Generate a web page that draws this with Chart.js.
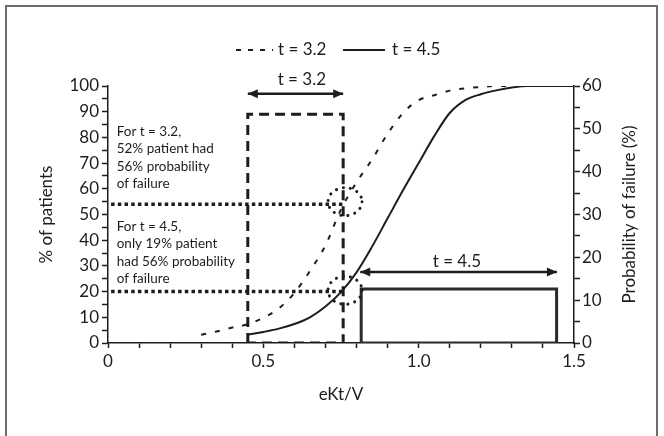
<!DOCTYPE html>
<html>
<head>
<meta charset="utf-8">
<script src="https://cdn.jsdelivr.net/npm/chart.js@4.4.1/dist/chart.umd.min.js"></script>
<style>
  html, body { margin: 0; padding: 0; background: #fff; }
  #wrap { position: relative; width: 664px; height: 436px; overflow: hidden; }
  #frame { position: absolute; left: 5px; top: 5px; width: 653px; height: 460px; border: 2px solid #6b6b6b; box-sizing: border-box; }
  #chart { position: absolute; left: 0; top: 0; }
</style>
</head>
<body>
<div id="wrap">
  <div id="frame"></div>
  <canvas id="chart" width="664" height="436"></canvas>
</div>
<script>
// t = 3.2 curve: eKt/V against % of patients
const ektvT32 = [0.30, 0.35, 0.40, 0.45, 0.50, 0.55, 0.60, 0.65, 0.70, 0.75, 0.80, 0.85, 0.90, 0.95, 1.00, 1.05, 1.10, 1.15, 1.20, 1.25, 1.30, 1.35, 1.40];
const pctT32  = [3.2, 4.5, 6.0, 7.3, 9.8, 13.5, 19.5, 28, 38, 52, 62.5, 71.4, 81.4, 89.5, 94.5, 96.4, 98.2, 99.1, 99.6, 100, 100, 100, 100];

// t = 4.5 curve
const ektvT45 = [0.45, 0.50, 0.55, 0.60, 0.65, 0.70, 0.75, 0.80, 0.85, 0.90, 0.95, 1.00, 1.05, 1.10, 1.15, 1.20, 1.25, 1.30, 1.35, 1.40, 1.45, 1.50];
const pctT45  = [3.2, 4.3, 5.6, 7.4, 10.0, 14.2, 19.8, 27.5, 37.5, 48.5, 59.5, 70, 80.5, 89.5, 94.5, 96.8, 98.3, 99.4, 100, 100, 100, 100];

// boxes: [left eKt/V, right eKt/V, top %]
const boxT32 = [0.45, 0.757, 89];
const boxT45 = [0.815, 1.444, 21];

// dotted reference levels (% of patients) and their eKt/V extent
const refLevels = [54, 20];
const refSpan = [0.01, 0.757];

// circled crossings [eKt/V, %]
const crossings = [[0.763, 55], [0.763, 20.5]];

// double arrows: [from, to, level]
const arrowT32 = [0.45, 0.757, 97];
const arrowT45 = [0.812, 1.445, 27.6];

const seriesNames = ['t = 3.2', 't = 4.5'];
const xLabelTicks = [0, 0.5, 1.0, 1.5];

const ink = '#1d1d1d';
const FONT = 'Lato, "Liberation Sans", sans-serif';

const pts = (xs, ys) => xs.map((x, i) => ({ x, y: ys[i] }));
const boxPts = ([l, r, t]) => [{ x: l, y: 0 }, { x: l, y: t }, { x: r, y: t }, { x: r, y: 0 }, { x: l, y: 0 }];

const lineSet = (data, extra) => Object.assign({
  data,
  borderColor: ink,
  borderWidth: 2,
  pointRadius: 0,
  tension: 0,
  fill: false,
  yAxisID: 'y',
}, extra);

const datasets = [
  lineSet(pts(ektvT32, pctT32), { label: seriesNames[0], borderDash: [5, 9], tension: 0.4, cubicInterpolationMode: 'monotone' }),
  lineSet(pts(ektvT45, pctT45), { label: seriesNames[1], tension: 0.4, cubicInterpolationMode: 'monotone' }),
  lineSet(boxPts(boxT32), { borderWidth: 3, borderDash: [10, 6] }),
  lineSet(boxPts(boxT45), { borderWidth: 3, borderColor: '#2a2a2a', borderJoinStyle: 'miter' }),
  ...refLevels.map(lvl => lineSet([{ x: refSpan[0], y: lvl }, { x: refSpan[1], y: lvl }], { borderWidth: 3.5, borderDash: [3.5, 3.2] })),
  ...[arrowT32, arrowT45].map(([a, b, lvl]) => lineSet([{ x: a, y: lvl }, { x: b, y: lvl }], { borderWidth: 2.5 })),
];

const arrowHead = (ctx, px, py, dir) => {
  ctx.beginPath();
  ctx.moveTo(px, py);
  ctx.lineTo(px - dir * 10, py - 4.5);
  ctx.lineTo(px - dir * 10, py + 4.5);
  ctx.closePath();
  ctx.fill();
};

const overlay = {
  id: 'overlay',
  afterDatasetsDraw(chart) {
    const { ctx, scales: { x, y } } = chart;
    ctx.save();
    ctx.fillStyle = ink;
    ctx.strokeStyle = ink;

    [arrowT32, arrowT45].forEach(([a, b, lvl]) => {
      const py = y.getPixelForValue(lvl);
      arrowHead(ctx, x.getPixelForValue(a), py, -1);
      arrowHead(ctx, x.getPixelForValue(b), py, 1);
    });

    // dotted circles round the crossings
    ctx.lineWidth = 3;
    ctx.lineCap = 'round';
    ctx.setLineDash([0.1, 7]);
    crossings.forEach(([cx, cy]) => {
      ctx.beginPath();
      ctx.ellipse(x.getPixelForValue(cx), y.getPixelForValue(cy), 17, 14, 0, 0, Math.PI * 2);
      ctx.stroke();
    });
    ctx.setLineDash([]);
    ctx.lineCap = 'butt';

    // span labels
    ctx.font = '17px ' + FONT;
    ctx.textAlign = 'center';
    ctx.textBaseline = 'middle';
    ctx.fillText(seriesNames[0], x.getPixelForValue(0.624), y.getPixelForValue(arrowT32[2]) - 14);
    ctx.fillText(seriesNames[1], x.getPixelForValue(1.123), y.getPixelForValue(arrowT45[2]) - 11);

    // notes
    ctx.font = '13.5px ' + FONT;
    ctx.textAlign = 'left';
    const note = (lines, x0, y0) => lines.forEach((s, i) => ctx.fillText(s, x.getPixelForValue(x0), y.getPixelForValue(y0) + i * 17.5));
    note(['For t = 3.2,', '52% patient had', '56% probability', 'of failure'], 0.028, 82.4);
    note(['For t = 4.5,', 'only 19% patient', 'had 56% probability', 'of failure'], 0.028, 45.3);

    // right axis title, reading upwards
    ctx.save();
    ctx.translate(630, (chart.chartArea.top + chart.chartArea.bottom) / 2);
    ctx.rotate(-Math.PI / 2);
    ctx.textAlign = 'center';
    ctx.font = '17px ' + FONT;
    ctx.fillText('Probability of failure (%)', 0, 0);
    ctx.restore();

    // legend
    ctx.lineWidth = 2;
    ctx.setLineDash([5, 7]);
    ctx.beginPath(); ctx.moveTo(236, 50); ctx.lineTo(273, 50); ctx.stroke();
    ctx.setLineDash([]);
    ctx.beginPath(); ctx.moveTo(343, 50); ctx.lineTo(385, 50); ctx.stroke();
    ctx.font = '17px ' + FONT;
    ctx.textAlign = 'left';
    ctx.fillText(seriesNames[0], 278, 50);
    ctx.fillText(seriesNames[1], 392, 50);
    ctx.restore();
  }
};

const tickFont = { family: FONT, size: 17 };
const axisGrid = { drawOnChartArea: false, color: ink, tickLength: 6, tickWidth: 1.5 };
const axisBorder = { color: ink, width: 1.5 };

new Chart(document.getElementById('chart'), {
  type: 'line',
  data: { datasets },
  options: {
    responsive: false,
    animation: false,
    layout: { padding: { top: 86, left: 0, right: 0, bottom: 0 } },
    plugins: { legend: { display: false }, tooltip: { enabled: false } },
    scales: {
      x: {
        type: 'linear',
        min: 0,
        max: 1.5,
        grid: { ...axisGrid, tickLength: 5 },
        border: axisBorder,
        ticks: {
          stepSize: 0.1,
          autoSkip: false,
          maxRotation: 0,
          padding: 3,
          color: ink,
          font: tickFont,
          callback: v => {
            const hit = xLabelTicks.find(t => Math.abs(t - v) < 1e-6);
            return hit === undefined ? '' : (hit === 0 ? '0' : hit.toFixed(1));
          },
        },
        title: { display: true, text: 'eKt/V', color: ink, font: { family: FONT, size: 17 }, padding: { top: 0, bottom: 31 } },
        afterFit: s => { s.height = 93; },
      },
      y: {
        position: 'left',
        min: 0,
        max: 100,
        grid: axisGrid,
        border: axisBorder,
        ticks: { stepSize: 5, autoSkip: false, padding: 3, color: ink, font: tickFont, callback: v => (v % 10 === 0 ? v : '') },
        title: { display: true, text: '% of patients', color: ink, font: { family: FONT, size: 17 }, padding: { top: 36, bottom: 0 } },
        afterFit: s => { s.width = 108; },
      },
      y2: {
        position: 'right',
        min: 0,
        max: 60,
        grid: axisGrid,
        border: axisBorder,
        ticks: { stepSize: 5, autoSkip: false, padding: 2, color: ink, font: tickFont, callback: v => (v % 10 === 0 ? v : '') },
        afterFit: s => { s.width = 90; },
      },
    },
  },
  plugins: [overlay],
});
</script>
</body>
</html>
